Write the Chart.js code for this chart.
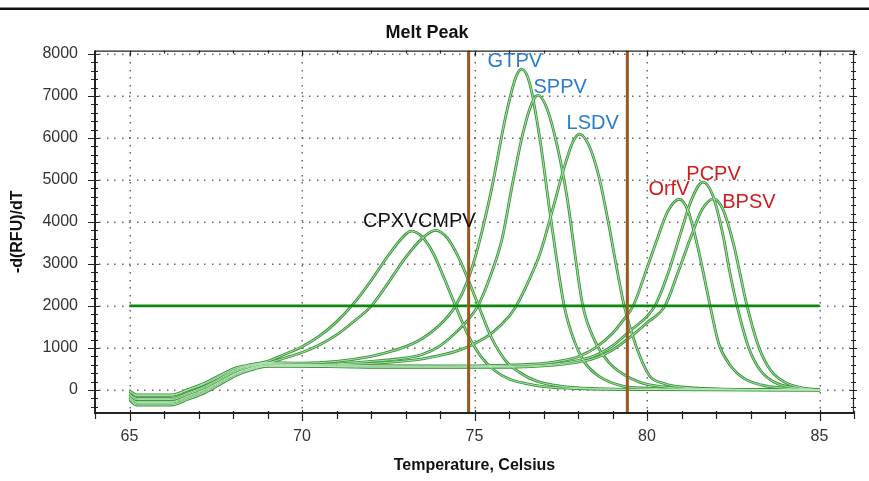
<!DOCTYPE html>
<html><head><meta charset="utf-8">
<script src="https://cdn.jsdelivr.net/npm/chart.js@4.4.1/dist/chart.umd.min.js"></script>
<style>html,body{margin:0;padding:0;background:#fff;}#wrap{width:869px;height:481px;position:relative;}canvas{display:block;}</style>
</head><body><div id="wrap"><canvas id="c" width="869" height="481"></canvas></div>
<script>
// ---- data (temperature in Celsius, -d(RFU)/dT) ----
const seriesNames = ['CPXV','CMPV','GTPV','SPPV','LSDV','OrfV','PCPV','BPSV'];

const cpxvTemps  = [65.0,65.2,66.2,66.7,67.2,67.7,68.1,68.5,69.0,69.5,70.0,70.5,71.0,71.5,72.0,72.5,72.9,73.17,73.5,73.8,74.1,74.45,74.8,75.2,75.6,76.0,76.5,77.0,78.0,80.0,85.0];
const cpxvValues = [-40,-130,-130,0,150,350,500,590,680,850,1030,1280,1620,2060,2600,3200,3620,3780,3630,3260,2700,2000,1330,780,450,260,150,80,30,10,0];

const cmpvTemps  = [65.0,65.2,66.2,66.7,67.2,67.7,68.1,68.5,69.0,69.5,70.0,70.5,71.0,71.5,72.0,72.5,73.0,73.5,73.87,74.2,74.5,74.8,75.12,75.5,75.9,76.3,76.8,77.5,78.5,80.0,85.0];
const cmpvValues = [-100,-200,-200,-70,90,310,480,570,640,760,890,1070,1310,1630,1990,2550,3150,3620,3800,3630,3220,2660,2000,1230,700,420,210,90,30,10,0];

const gtpvTemps  = [65.0,65.2,66.2,66.7,67.2,67.7,68.1,68.5,69.0,70.0,71.0,72.0,72.5,73.0,73.5,74.0,74.45,74.8,75.1,75.5,75.9,76.2,76.37,76.6,76.9,77.2,77.6,77.9,78.2,78.6,79.3,80.0,82.0,85.0];
const gtpvValues = [-20,-120,-120,10,170,380,530,600,650,640,680,800,900,1030,1230,1550,2000,2600,3400,4800,6500,7450,7640,7300,5950,4150,2000,1150,650,330,90,40,10,0];

const sppvTemps  = [65.0,65.2,66.2,66.7,67.2,67.7,68.1,68.5,69.0,70.0,71.0,72.0,73.0,73.5,74.0,74.5,75.1,75.5,75.8,76.1,76.4,76.65,76.84,77.1,77.4,77.7,77.9,78.14,78.5,78.9,79.3,79.8,80.5,81.5,85.0];
const sppvValues = [-170,-280,-280,-140,20,240,410,520,600,600,620,680,760,850,1050,1400,2000,2800,3600,4900,6100,6800,7020,6700,5800,4500,3300,2000,1150,650,380,180,70,25,0];

const lsdvTemps  = [65.0,65.2,66.2,66.7,67.2,67.7,68.1,68.5,69.0,70.0,72.0,73.0,73.5,74.0,74.5,75.0,75.5,76.0,76.21,76.6,76.9,77.3,77.6,77.85,78.04,78.3,78.6,78.9,79.1,79.34,79.68,80.06,80.5,81.0,82.0,85.0];
const lsdvValues = [-210,-330,-330,-190,-30,200,380,490,570,580,630,690,740,820,930,1100,1350,1750,2000,2650,3250,4400,5300,5900,6090,5850,5100,3900,3000,2000,1050,350,150,70,25,0];

const orfvTemps  = [65.0,65.2,66.2,66.7,67.2,67.7,68.1,68.5,69.0,70.0,72.0,74.0,76.0,77.0,77.5,78.0,78.5,79.0,79.3,79.6,80.0,80.3,80.6,80.94,81.2,81.5,81.83,82.08,82.4,82.8,83.3,84.0,85.0];
const orfvValues = [-120,-230,-230,-100,60,280,450,550,630,600,580,570,590,630,690,790,1000,1350,1650,2000,2900,3600,4250,4540,4240,3300,2000,1100,600,280,120,40,0];

const pcpvTemps  = [65.0,65.2,66.2,66.7,67.2,67.7,68.1,68.5,69.0,70.0,72.0,74.0,76.0,77.0,78.0,78.5,79.0,79.5,80.0,80.23,80.6,81.0,81.3,81.62,81.9,82.2,82.4,82.61,82.95,83.3,83.7,84.2,85.0];
const pcpvValues = [-240,-360,-360,-220,-60,170,350,470,560,560,550,550,560,590,700,820,1050,1400,1750,2000,2750,3800,4550,4950,4650,3700,2800,2000,1000,450,180,60,0];

const bpsvTemps  = [65.0,65.2,66.2,66.7,67.2,67.7,68.1,68.5,69.0,70.0,72.0,74.0,76.0,77.0,78.0,78.5,79.0,79.5,80.0,80.52,80.9,81.3,81.6,81.93,82.2,82.5,82.7,82.9,83.25,83.6,84.0,84.5,85.0];
const bpsvValues = [-180,-300,-300,-160,0,220,400,510,590,570,540,540,540,570,660,760,950,1250,1600,2000,2800,3700,4300,4550,4300,3500,2750,2000,1000,450,180,50,0];

const thresholdTemps  = [65, 85];
const thresholdValues = [2000, 2000];
const markerTemps = [74.83, 79.43];

const xTickValues = [65, 70, 75, 80, 85];
const yTickValues = [0, 1000, 2000, 3000, 4000, 5000, 6000, 7000, 8000];
const xRange = [64, 86];
const yRange = [-550, 8080];
const xMinorStep = 1;
const yMinorStep = 200;

// label text + where it sits (data coordinates)
const curveLabels = [
  {text:'GTPV', t:75.38, v:7680, color:'#2a7ccf'},
  {text:'SPPV', t:76.71, v:7080, color:'#2a7ccf'},
  {text:'LSDV', t:77.67, v:6210, color:'#2a7ccf'},
  {text:'CPXV', t:71.77, v:3880, color:'#111111'},
  {text:'CMPV', t:73.36, v:3880, color:'#111111'},
  {text:'OrfV', t:80.04, v:4630, color:'#d01c1c'},
  {text:'PCPV', t:81.14, v:4990, color:'#d01c1c'},
  {text:'BPSV', t:82.18, v:4320, color:'#d01c1c'}
];

// ---- build ----
const FONT = "'Liberation Sans', Arial, Helvetica, sans-serif";
const seriesData = [
  [cpxvTemps,cpxvValues],[cmpvTemps,cmpvValues],[gtpvTemps,gtpvValues],[sppvTemps,sppvValues],
  [lsdvTemps,lsdvValues],[orfvTemps,orfvValues],[pcpvTemps,pcpvValues],[bpsvTemps,bpsvValues]
];
function toPoints(ts, vs){ return ts.map((t,i)=>({x:t, y:vs[i]})); }

const datasets = [];
seriesData.forEach(([ts,vs],i)=>{
  datasets.push({label:seriesNames[i], data:toPoints(ts,vs), borderColor:'#369836', borderWidth:2.8,
    pointRadius:0, fill:false, cubicInterpolationMode:'monotone', order:5});
  datasets.push({label:seriesNames[i]+'-core', data:toPoints(ts,vs), borderColor:'#bfe5bf', borderWidth:0.9,
    pointRadius:0, fill:false, cubicInterpolationMode:'monotone', order:4});
});
datasets.push({label:'threshold', data:toPoints(thresholdTemps,thresholdValues), borderColor:'#0d870d',
  borderWidth:2.6, pointRadius:0, fill:false, tension:0, order:2});
markerTemps.forEach((t,i)=>{
  datasets.push({label:'marker'+i, data:[{x:t,y:yRange[0]},{x:t,y:yRange[1]}], borderColor:'#9e561f',
    borderWidth:3, pointRadius:0, fill:false, tension:0, order:1});
});

const framePlugin = {
  id:'frame',
  beforeDraw(chart){
    const ctx = chart.ctx;
    ctx.save();
    ctx.fillStyle = '#111';
    ctx.fillRect(0, 7.5, chart.width, 2.5);
    ctx.restore();
  },
  beforeDatasetsDraw(chart){
    // dotted grid lines at the labelled ticks
    const ctx = chart.ctx, a = chart.chartArea, xs = chart.scales.x, ys = chart.scales.y;
    ctx.save();
    ctx.fillStyle = '#666';
    xTickValues.forEach(t=>{
      const x = Math.round(xs.getPixelForValue(t));
      for (let y = a.top + 4; y < a.bottom - 1; y += 7.5) ctx.fillRect(x - 0.5, Math.round(y), 1.5, 1.5);
    });
    yTickValues.forEach(v=>{
      const y = Math.round(ys.getPixelForValue(v));
      for (let x = a.left + 4; x < a.right - 1; x += 7.5) ctx.fillRect(Math.round(x), y - 0.5, 1.5, 1.5);
    });
    ctx.restore();
  },
  afterDatasetsDraw(chart){
    const ctx = chart.ctx, xs = chart.scales.x, ys = chart.scales.y;
    ctx.save();
    ctx.font = '20px ' + FONT;
    ctx.textBaseline = 'alphabetic';
    ctx.textAlign = 'left';
    curveLabels.forEach(l=>{
      ctx.fillStyle = l.color;
      ctx.fillText(l.text, xs.getPixelForValue(l.t), ys.getPixelForValue(l.v));
    });
    ctx.restore();
  },
  afterDraw(chart){
    const ctx = chart.ctx, a = chart.chartArea, xs = chart.scales.x, ys = chart.scales.y;
    ctx.save();
    ctx.strokeStyle = '#222';
    ctx.lineWidth = 1.2;
    ctx.beginPath();
    ctx.moveTo(a.left, a.top + 0.5); ctx.lineTo(a.right, a.top + 0.5);
    ctx.moveTo(a.right - 0.5, a.top); ctx.lineTo(a.right - 0.5, a.bottom);
    ctx.stroke();
    ctx.lineWidth = 2;
    ctx.beginPath();
    ctx.moveTo(a.left, a.top); ctx.lineTo(a.left, a.bottom + 1);
    ctx.moveTo(a.left - 1, a.bottom); ctx.lineTo(a.right, a.bottom);
    ctx.stroke();
    ctx.lineWidth = 1.2;
    ctx.beginPath();
    for (let v = Math.ceil(yRange[0]/yMinorStep)*yMinorStep; v <= yRange[1]; v += yMinorStep) {
      const y = Math.round(ys.getPixelForValue(v)) + 0.5;
      const major = yTickValues.includes(v);
      ctx.moveTo(a.left - (major ? 7 : 4), y); ctx.lineTo(a.left + (major ? 4 : 3), y);
      ctx.moveTo(a.right - (major ? 4 : 3), y); ctx.lineTo(a.right + (major ? 3 : 2), y);
    }
    for (let t = xRange[0]; t <= xRange[1]; t += xMinorStep) {
      const x = Math.round(xs.getPixelForValue(t)) + 0.5;
      const major = xTickValues.includes(t);
      ctx.moveTo(x, a.bottom - (major ? 3 : 2)); ctx.lineTo(x, a.bottom + (major ? 8 : 6));
      ctx.moveTo(x, a.top); ctx.lineTo(x, a.top + (major ? 5 : 3));
    }
    ctx.stroke();
    ctx.restore();
  }
};

new Chart(document.getElementById('c'), {
  type:'line',
  data:{datasets},
  plugins:[framePlugin],
  options:{
    responsive:false, animation:false, devicePixelRatio:1,
    layout:{padding:{left:0, right:15, top:0, bottom:0}},
    plugins:{
      legend:{display:false}, tooltip:{enabled:false},
      title:{display:true, text:'Melt Peak', color:'#111', font:{family:FONT, size:18, weight:'bold'},
        padding:{top:22, bottom:7}}
    },
    scales:{
      x:{type:'linear', min:xRange[0], max:xRange[1],
        afterFit(s){ s.height = 68; },
        afterBuildTicks(s){ s.ticks = xTickValues.map(v=>({value:v})); },
        ticks:{color:'#333', padding:14, font:{family:FONT, size:16}, callback:v=>String(v)},
        grid:{display:false, drawTicks:false},
        border:{display:false},
        title:{display:true, text:'Temperature, Celsius', color:'#111',
          font:{family:FONT, size:16, weight:'bold'}, padding:{top:0, bottom:6}}
      },
      y:{type:'linear', min:yRange[0], max:yRange[1],
        afterFit(s){ s.width = 95; },
        afterBuildTicks(s){ s.ticks = yTickValues.map(v=>({value:v})); },
        ticks:{color:'#333', padding:17, font:{family:FONT, size:16}, callback:v=>String(v)},
        grid:{display:false, drawTicks:false},
        border:{display:false},
        title:{display:true, text:'-d(RFU)/dT', color:'#111',
          font:{family:FONT, size:16, weight:'bold'}, padding:{top:8, bottom:0}}
      }
    }
  }
});
</script></body></html>
